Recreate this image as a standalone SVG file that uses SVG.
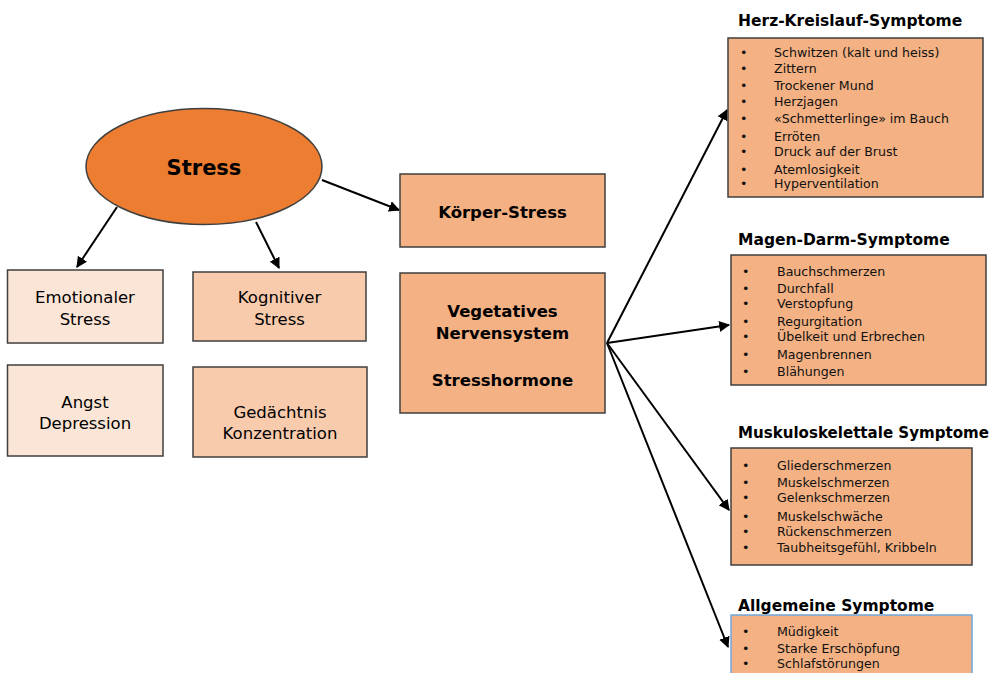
<svg xmlns="http://www.w3.org/2000/svg" width="995" height="673" viewBox="0 0 995 673">
<defs>
<marker id="ah" viewBox="0 0 10 10" refX="9" refY="5" markerWidth="5.5" markerHeight="5.5" orient="auto" markerUnits="strokeWidth">
<path d="M0,0 L10,5 L0,10 z" fill="#000"/>
</marker>
<style>
.box{stroke:#3f3f3f;stroke-width:1.5}
.f1{fill:#FBE5D6}.f2{fill:#F8CBAD}.f3{fill:#F4B183}
.t{font-family:"DejaVu Sans",Verdana,sans-serif;font-size:16.5px;fill:#000;text-anchor:middle}
.b{font-weight:bold}
.h{font-family:"DejaVu Sans",Verdana,sans-serif;font-size:15.5px;font-weight:bold;fill:#000}
.i{font-family:"DejaVu Sans",Verdana,sans-serif;font-size:12.6px;fill:#111}
.c{stroke:#000;stroke-width:2;fill:none}
.a{marker-end:url(#ah)}
</style>
</defs>
<rect width="995" height="673" fill="#fff"/>
<g id="connectors">
<line class="c a" x1="117" y1="207" x2="77" y2="267"/>
<line class="c a" x1="256" y1="222" x2="279" y2="268"/>
<line class="c a" x1="322" y1="180" x2="399" y2="210"/>
<line class="c a" x1="607" y1="343" x2="727" y2="110"/>
<line class="c a" x1="607" y1="343" x2="729" y2="325"/>
<line class="c a" x1="607" y1="343" x2="729" y2="510"/>
<line class="c a" x1="607" y1="343" x2="728" y2="647"/>
</g>
<g id="stress">
<ellipse cx="204" cy="166.5" rx="118" ry="58" fill="#ED7D31" stroke="#3f3f3f" stroke-width="1.5"/>
<text class="t b" x="204" y="175" style="font-size:21px">Stress</text>
</g>
<g id="emotional">
<rect class="box f1" x="7.5" y="270" width="155.5" height="73"/>
<text class="t" x="85" y="303">Emotionaler</text>
<text class="t" x="85" y="325">Stress</text>
</g>
<g id="kognitiv">
<rect class="box f2" x="193" y="272" width="173" height="69"/>
<text class="t" x="279.5" y="303">Kognitiver</text>
<text class="t" x="279.5" y="325">Stress</text>
</g>
<g id="angst">
<rect class="box f1" x="7.5" y="365" width="155.5" height="91"/>
<text class="t" x="85" y="408">Angst</text>
<text class="t" x="85" y="429">Depression</text>
</g>
<g id="gedaechtnis">
<rect class="box f2" x="193" y="367" width="174" height="90"/>
<text class="t" x="280" y="418">Gedächtnis</text>
<text class="t" x="280" y="439">Konzentration</text>
</g>
<g id="koerper">
<rect class="box f3" x="400" y="174" width="205" height="73"/>
<text class="t b" x="502.5" y="218">Körper-Stress</text>
</g>
<g id="vegetativ">
<rect class="box f3" x="400" y="273" width="205" height="140"/>
<text class="t b" x="502.5" y="317">Vegetatives</text>
<text class="t b" x="502.5" y="339">Nervensystem</text>
<text class="t b" x="502.5" y="386">Stresshormone</text>
</g>
<g id="herz">
<text class="h" x="738" y="26">Herz-Kreislauf-Symptome</text>
<rect class="box f3" x="728" y="38" width="255" height="159"/>
<g class="i">
<text x="740" y="57">•</text><text x="774" y="57">Schwitzen (kalt und heiss)</text>
<text x="740" y="73">•</text><text x="774" y="73">Zittern</text>
<text x="740" y="90">•</text><text x="774" y="90">Trockener Mund</text>
<text x="740" y="106">•</text><text x="774" y="106">Herzjagen</text>
<text x="740" y="123">•</text><text x="774" y="123">«Schmetterlinge» im Bauch</text>
<text x="740" y="141">•</text><text x="774" y="141">Erröten</text>
<text x="740" y="156">•</text><text x="774" y="156">Druck auf der Brust</text>
<text x="740" y="174">•</text><text x="774" y="174">Atemlosigkeit</text>
<text x="740" y="188">•</text><text x="774" y="188">Hyperventilation</text>
</g>
</g>
<g id="magen">
<text class="h" x="738" y="245">Magen-Darm-Symptome</text>
<rect class="box f3" x="731" y="255" width="255" height="130"/>
<g class="i">
<text x="742" y="276">•</text><text x="777" y="276">Bauchschmerzen</text>
<text x="742" y="293">•</text><text x="777" y="293">Durchfall</text>
<text x="742" y="308">•</text><text x="777" y="308">Verstopfung</text>
<text x="742" y="326">•</text><text x="777" y="326">Regurgitation</text>
<text x="742" y="341">•</text><text x="777" y="341">Übelkeit und Erbrechen</text>
<text x="742" y="359">•</text><text x="777" y="359">Magenbrennen</text>
<text x="742" y="376">•</text><text x="777" y="376">Blähungen</text>
</g>
</g>
<g id="muskulo">
<text class="h" x="738" y="438" textLength="251" lengthAdjust="spacingAndGlyphs">Muskuloskelettale Symptome</text>
<rect class="box f3" x="731" y="448" width="241" height="117"/>
<g class="i">
<text x="742" y="470">•</text><text x="777" y="470">Gliederschmerzen</text>
<text x="742" y="487">•</text><text x="777" y="487">Muskelschmerzen</text>
<text x="742" y="502">•</text><text x="777" y="502">Gelenkschmerzen</text>
<text x="742" y="521">•</text><text x="777" y="521">Muskelschwäche</text>
<text x="742" y="536">•</text><text x="777" y="536">Rückenschmerzen</text>
<text x="742" y="552">•</text><text x="777" y="552">Taubheitsgefühl, Kribbeln</text>
</g>
</g>
<g id="allgemein">
<text class="h" x="738" y="611">Allgemeine Symptome</text>
<rect x="731" y="615" width="241" height="70" fill="#F4B183" stroke="#6FA8DC" stroke-width="1.5"/>
<g class="i">
<text x="742" y="636">•</text><text x="777" y="636">Müdigkeit</text>
<text x="742" y="653">•</text><text x="777" y="653">Starke Erschöpfung</text>
<text x="742" y="668">•</text><text x="777" y="668">Schlafstörungen</text>
</g>
</g>
</svg>
